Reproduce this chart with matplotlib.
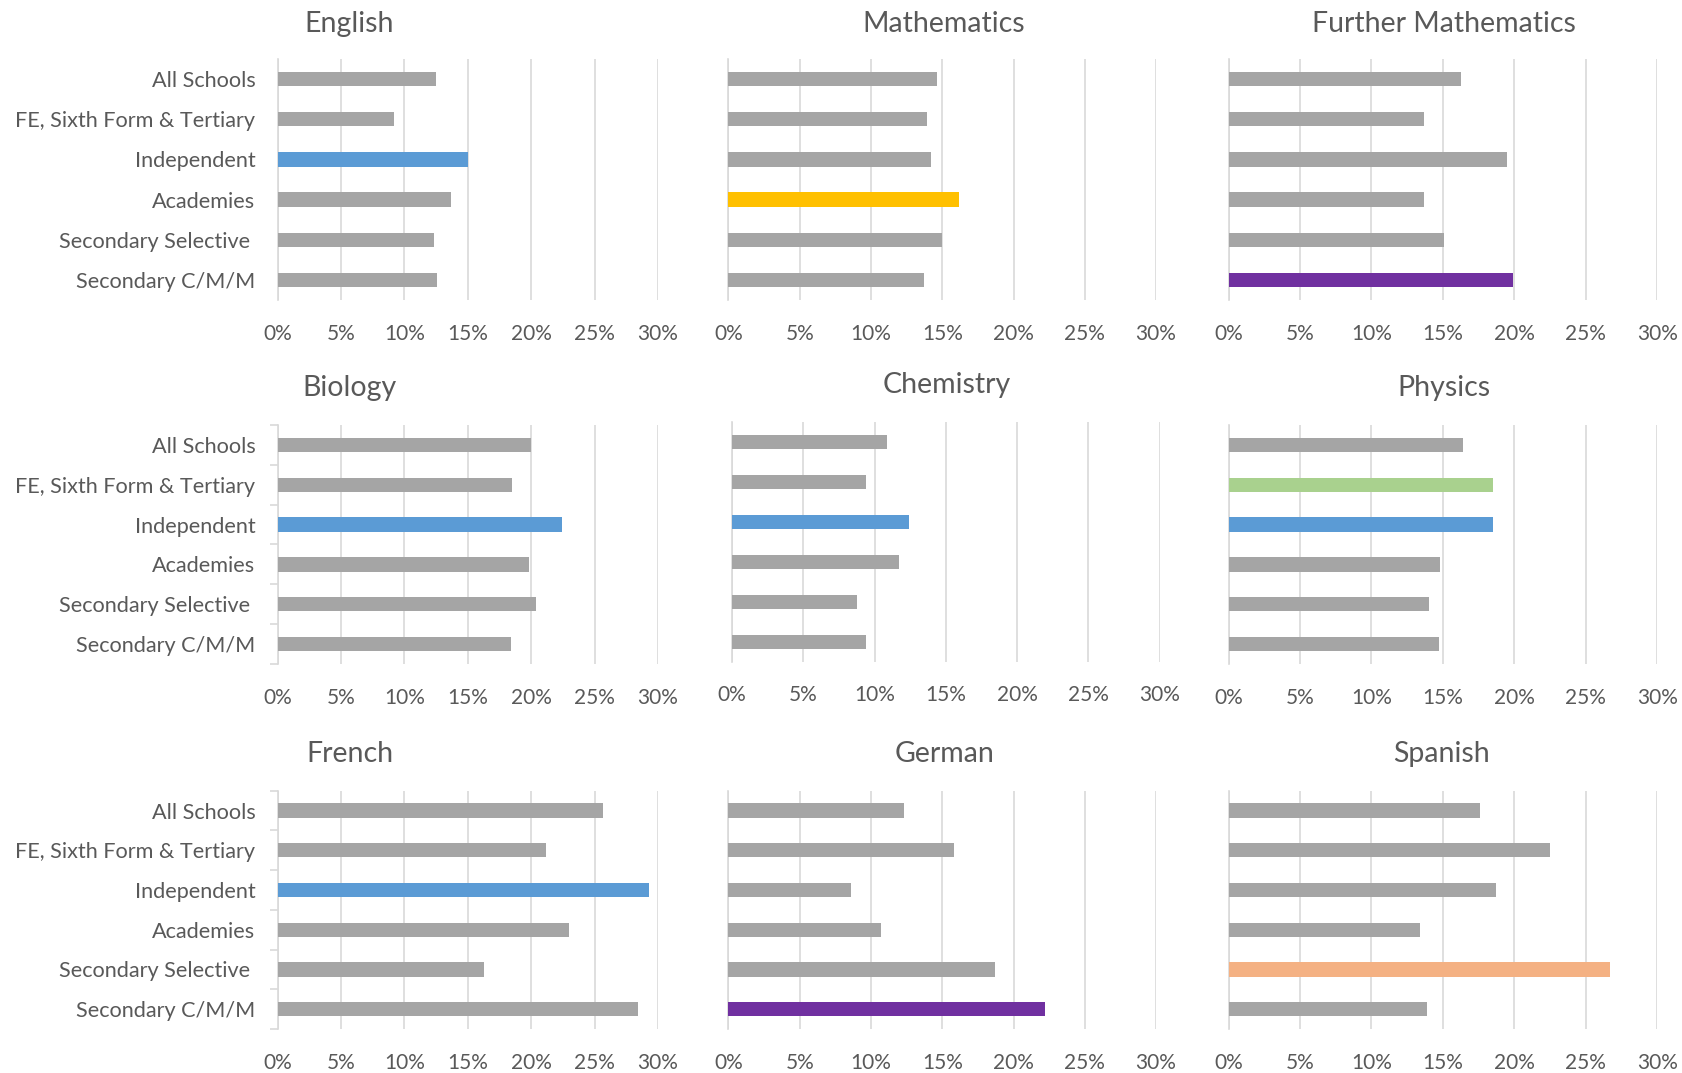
import matplotlib
matplotlib.use("Agg")
import matplotlib.pyplot as plt
from matplotlib.ticker import PercentFormatter

plt.rcParams['font.family'] = ['Lato', 'DejaVu Sans']

categories = ["All Schools", "FE, Sixth Form & Tertiary", "Independent",
              "Academies", "Secondary Selective ", "Secondary C/M/M"]

english = [12.5, 9.2, 15.0, 13.7, 12.3, 12.6]
mathematics = [14.6, 13.9, 14.2, 16.2, 15.0, 13.7]
further_maths = [16.3, 13.7, 19.5, 13.7, 15.1, 19.9]
biology = [20.0, 18.5, 22.4, 19.8, 20.4, 18.4]
chemistry = [10.9, 9.4, 12.4, 11.7, 8.8, 9.4]
physics = [16.4, 18.5, 18.5, 14.8, 14.0, 14.7]
french = [25.7, 21.2, 29.3, 23.0, 16.3, 28.4]
german = [12.3, 15.8, 8.6, 10.7, 18.7, 22.2]
spanish = [17.6, 22.5, 18.7, 13.4, 26.7, 13.9]

ticks = [0, 5, 10, 15, 20, 25, 30]

GRAY = "#A5A5A5"
BLUE = "#5B9BD5"
YELLOW = "#FFC000"
PURPLE = "#7030A0"
GREEN = "#A9D18E"
ORANGE = "#F4B183"
TEXT = "#595959"
GRID = "#D9D9D9"

panels = [
    # title, values, highlights, axes rect, title pos, show labels
    ("English", english, {2: BLUE}, [0.1650, 0.7204, 0.2262, 0.2246], (0.2073, 0.978), True),
    ("Mathematics", mathematics, {3: YELLOW}, [0.4331, 0.7204, 0.2542, 0.2246], (0.5613, 0.978), False),
    ("Further Mathematics", further_maths, {5: PURPLE}, [0.7304, 0.7204, 0.2548, 0.2246], (0.8584, 0.978), False),
    ("Biology", biology, {2: BLUE}, [0.1650, 0.3812, 0.2262, 0.2227], (0.2079, 0.6380), True),
    ("Chemistry", chemistry, {2: BLUE}, [0.4352, 0.3833, 0.2542, 0.2231], (0.5630, 0.6410), False),
    ("Physics", physics, {1: GREEN, 2: BLUE}, [0.7304, 0.3812, 0.2548, 0.2227], (0.8584, 0.6380), False),
    ("French", french, {2: BLUE}, [0.1650, 0.0410, 0.2262, 0.2221], (0.2079, 0.2972), True),
    ("German", german, {5: PURPLE}, [0.4331, 0.0410, 0.2542, 0.2221], (0.5613, 0.2972), False),
    ("Spanish", spanish, {4: ORANGE}, [0.7304, 0.0410, 0.2548, 0.2221], (0.8572, 0.2972), False),
]

fig = plt.figure(figsize=(16.82, 10.73), dpi=100)

for title, vals, hl, rect, tpos, show_labels in panels:
    ax = fig.add_axes(rect)
    colors = [hl.get(i, GRAY) for i in range(len(categories))]
    ax.barh(range(len(categories)), vals, height=0.36, color=colors, zorder=3)
    ax.set_xlim(0, 30)
    ax.set_ylim(5.5, -0.5)
    ax.set_xticks(ticks)
    ax.xaxis.set_major_formatter(PercentFormatter(decimals=0))
    ax.grid(axis='x', color=GRID, linewidth=1.2, zorder=0)
    ax.set_axisbelow(True)
    for s in ['top', 'right', 'bottom']:
        ax.spines[s].set_visible(False)
    ax.spines['left'].set_color(GRID)
    ax.spines['left'].set_linewidth(1.2)
    ax.tick_params(axis='x', length=0, pad=17, labelsize=15, labelcolor=TEXT)
    ax.set_yticks(range(len(categories)))
    if show_labels:
        ax.set_yticklabels(categories)
        ax.tick_params(axis='y', which='major', length=0, pad=16, labelsize=15.6, labelcolor=TEXT)
        if title != "English":
            ax.set_yticks([i - 0.5 for i in range(len(categories) + 1)], minor=True)
            ax.tick_params(axis='y', which='minor', length=6, color=GRID, width=1.2)
    else:
        ax.set_yticklabels([])
        ax.tick_params(axis='y', length=0)
    fig.text(tpos[0], tpos[1], title, ha='center', va='center', fontsize=20.5, color=TEXT)

fig.savefig("out.png", dpi=100, facecolor="white")
